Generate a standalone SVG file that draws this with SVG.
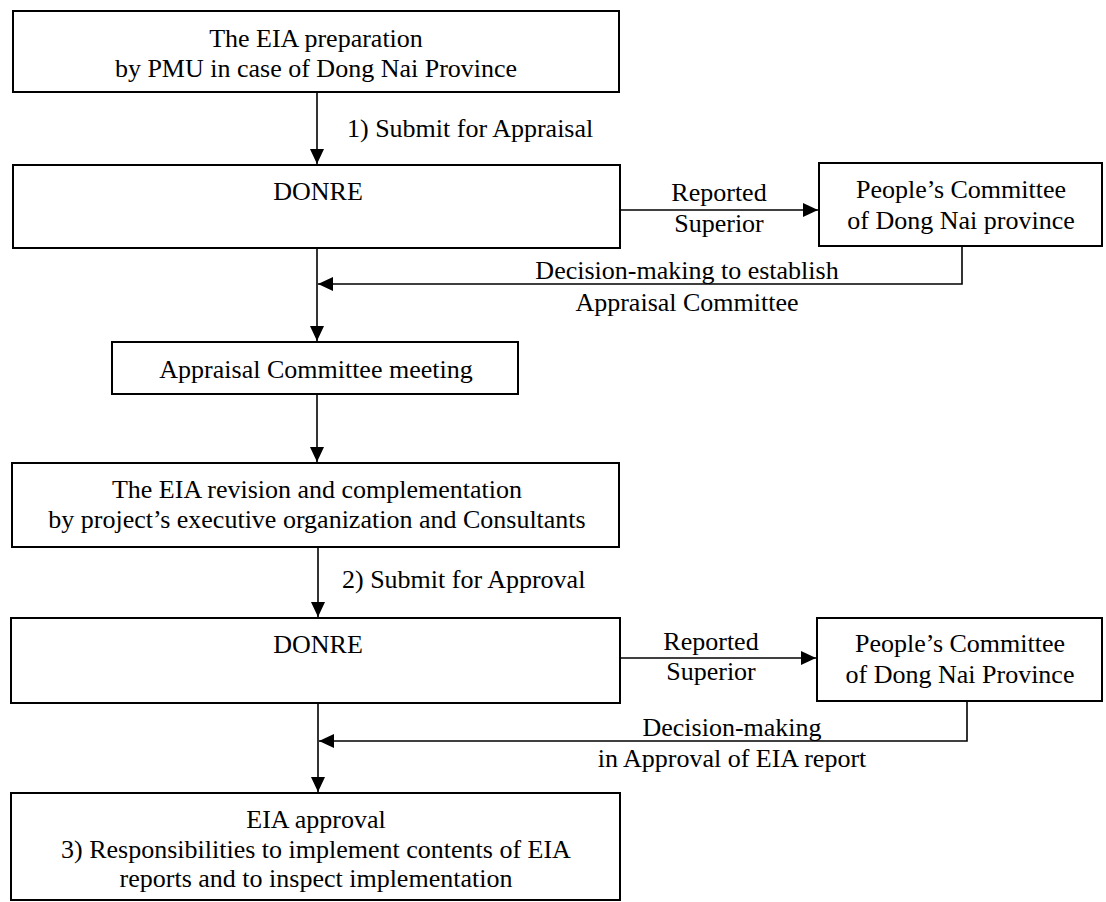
<svg xmlns="http://www.w3.org/2000/svg" width="1106" height="902" viewBox="0 0 1106 902">
  <style>
    .box { fill: #ffffff; stroke: #000000; stroke-width: 2; }
    .conn { fill: none; stroke: #000000; stroke-width: 1.6; }
    text { font-family: "Liberation Serif", "Times New Roman", serif; font-size: 26px; fill: #000000; }
    .c { text-anchor: middle; }
  </style>
  <defs>
    <marker id="arrow" markerUnits="userSpaceOnUse" markerWidth="15" markerHeight="14" refX="15" refY="7" orient="auto">
      <path d="M0,0 L15,7 L0,14 Z" fill="#000000"/>
    </marker>
  </defs>
  <rect width="1106" height="902" fill="#ffffff"/>

  <!-- connectors -->
  <g id="connectors">
    <line class="conn" x1="317" y1="93" x2="317" y2="164" marker-end="url(#arrow)"/>
    <line class="conn" x1="620" y1="210" x2="818" y2="210" marker-end="url(#arrow)"/>
    <polyline class="conn" points="962,247 962,284 318,284" marker-end="url(#arrow)"/>
    <line class="conn" x1="317" y1="249" x2="317" y2="341" marker-end="url(#arrow)"/>
    <line class="conn" x1="317" y1="395" x2="317" y2="462" marker-end="url(#arrow)"/>
    <line class="conn" x1="318" y1="548" x2="318" y2="617" marker-end="url(#arrow)"/>
    <line class="conn" x1="620" y1="658" x2="816" y2="658" marker-end="url(#arrow)"/>
    <polyline class="conn" points="967,702 967,741 319,741" marker-end="url(#arrow)"/>
    <line class="conn" x1="318" y1="704" x2="318" y2="792" marker-end="url(#arrow)"/>
    <text x="347" y="137">1) Submit for Appraisal</text>
    <text class="c" x="719" y="201">Reported</text>
    <text class="c" x="719" y="232">Superior</text>
    <text class="c" x="687" y="279">Decision-making to establish</text>
    <text class="c" x="687" y="311">Appraisal Committee</text>
    <text x="342" y="588">2) Submit for Approval</text>
    <text class="c" x="711" y="650">Reported</text>
    <text class="c" x="711" y="680">Superior</text>
    <text class="c" x="732" y="736">Decision-making</text>
    <text class="c" x="732" y="767">in Approval of EIA report</text>
  </g>

  <g id="eia-preparation">
    <rect class="box" x="13" y="11" width="606" height="81"/>
    <text class="c" x="316" y="47">The EIA preparation</text>
    <text class="c" x="316" y="77">by PMU in case of Dong Nai Province</text>
  </g>

  <g id="donre-appraisal">
    <rect class="box" x="13" y="165" width="607" height="83"/>
    <text class="c" x="318" y="200">DONRE</text>
  </g>

  <g id="peoples-committee-1">
    <rect class="box" x="819" y="163" width="283" height="83"/>
    <text class="c" x="961" y="198">People’s Committee</text>
    <text class="c" x="961" y="229">of Dong Nai province</text>
  </g>

  <g id="appraisal-meeting">
    <rect class="box" x="112" y="342" width="406" height="52"/>
    <text class="c" x="316" y="378">Appraisal Committee meeting</text>
  </g>

  <g id="eia-revision">
    <rect class="box" x="12" y="463" width="607" height="84"/>
    <text class="c" x="317" y="498">The EIA revision and complementation</text>
    <text class="c" x="317" y="528">by project’s executive organization and Consultants</text>
  </g>

  <g id="donre-approval">
    <rect class="box" x="11" y="618" width="609" height="85"/>
    <text class="c" x="318" y="653">DONRE</text>
  </g>

  <g id="peoples-committee-2">
    <rect class="box" x="817" y="618" width="285" height="83"/>
    <text class="c" x="960" y="652">People’s Committee</text>
    <text class="c" x="960" y="683">of Dong Nai Province</text>
  </g>

  <g id="eia-approval">
    <rect class="box" x="11" y="793" width="609" height="107"/>
    <text class="c" x="316" y="828">EIA approval</text>
    <text class="c" x="316" y="858">3) Responsibilities to implement contents of EIA</text>
    <text class="c" x="316" y="887">reports and to inspect implementation</text>
  </g>
</svg>
